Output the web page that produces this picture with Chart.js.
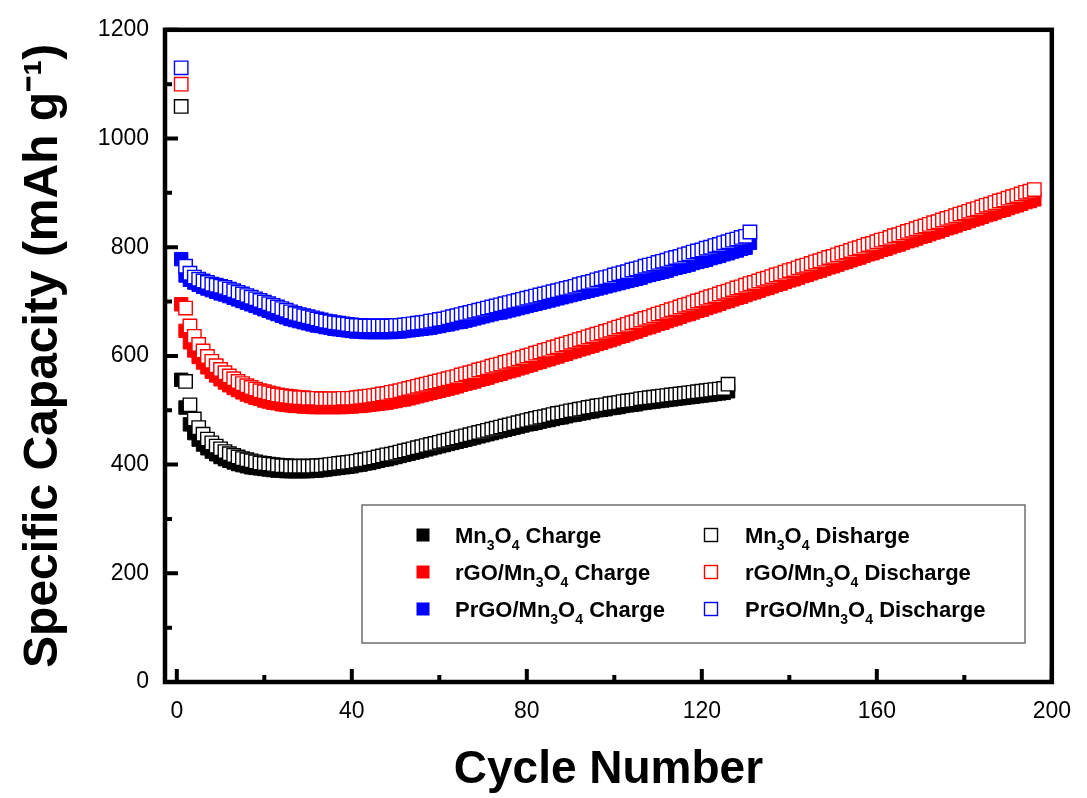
<!DOCTYPE html>
<html>
<head>
<meta charset="utf-8">
<title>Specific capacity vs cycle number</title>
<script src="https://cdn.jsdelivr.net/npm/chart.js@4.4.1/dist/chart.umd.min.js"></script>
<style>
  html, body { margin: 0; padding: 0; background: #fff; }
  #wrap { width: 1087px; height: 798px; }
</style>
</head>
<body>
<div id="wrap"><canvas id="chart" width="1087" height="798"></canvas></div>
<script>
// Capacity per cycle (mAh/g), cycle n is at index n-1
const mnCharge = [
  556,505,474,458,446,437,430,424,419,414,
  410,407,404,401,399,397,395,394,393,392,
  391,390,389,389,388,388,388,388,388,388,
  389,389,390,391,392,393,394,395,396,397,
  399,400,402,403,405,407,409,410,412,414,
  416,418,420,422,424,426,428,430,432,434,
  436,438,440,442,444,446,448,450,452,454,
  456,458,460,462,464,466,468,470,472,474,
  475,477,479,481,482,484,486,487,489,491,
  492,494,495,497,498,500,501,502,504,505,
  506,508,509,510,511,513,514,515,516,517,
  518,519,520,521,522,523,524,525,526,527,
  528,529,530,531,532,535
];
const mnDischarge = [
  1059,553,510,484,468,456,447,440,434,429,
  424,420,417,414,411,409,407,405,403,402,
  401,400,399,398,398,397,397,397,397,397,
  397,398,398,399,400,401,402,403,404,405,
  406,408,409,411,412,414,416,418,419,421,
  423,425,427,429,431,433,435,437,439,441,
  443,445,447,449,451,453,455,457,459,461,
  463,465,467,469,471,473,475,477,479,481,
  483,485,487,488,490,492,494,495,497,499,
  500,502,503,505,506,508,509,510,512,513,
  514,516,517,518,519,521,522,523,524,525,
  526,527,528,529,530,531,532,533,534,535,
  536,537,538,539,540,548
];
const rgoCharge = [
  695,646,625,610,598,588,579,571,564,557,
  551,546,541,537,533,529,526,523,521,518,
  516,514,513,511,510,509,508,508,507,507,
  506,506,506,506,506,506,506,506,507,507,
  508,508,509,510,511,512,513,514,516,517,
  519,520,522,524,526,528,530,532,534,536,
  538,540,542,544,547,549,551,553,556,558,
  560,563,565,567,570,572,574,577,579,582,
  584,587,589,592,594,597,599,602,604,607,
  609,612,614,617,619,622,624,627,629,632,
  635,637,640,643,645,648,651,653,656,659,
  661,664,667,669,672,675,677,680,683,685,
  688,691,693,696,699,701,704,707,709,712,
  715,717,720,723,725,728,731,733,736,739,
  741,744,747,749,752,755,757,760,763,765,
  768,771,773,776,779,781,784,787,789,792,
  795,797,800,803,805,808,811,813,816,819,
  821,824,827,829,832,835,837,840,843,845,
  848,851,853,856,859,861,864,867,869,872,
  875,877,880,883,885,888
];
const rgoDischarge = [
  1100,688,655,636,621,609,599,590,582,575,
  569,563,558,553,549,545,542,539,536,534,
  532,530,528,527,526,525,524,523,523,522,
  522,522,521,521,521,521,521,522,522,522,
  523,524,525,526,527,528,530,531,533,534,
  536,538,540,542,544,546,548,550,552,554,
  556,558,560,562,565,567,569,571,574,576,
  578,581,583,585,588,590,592,595,597,600,
  602,605,607,610,612,615,617,620,622,625,
  627,630,632,635,637,640,642,645,647,650,
  653,655,658,661,663,666,669,671,674,677,
  679,682,685,687,690,693,695,698,701,703,
  706,709,711,714,717,719,722,725,727,730,
  733,735,738,741,743,746,749,751,754,757,
  759,762,765,767,770,773,775,778,781,783,
  786,789,791,794,797,799,802,805,807,810,
  813,815,818,821,823,826,829,831,834,837,
  839,842,845,847,850,853,855,858,861,863,
  866,869,871,874,877,879,882,885,887,890,
  893,895,898,901,903,906
];
const prgoCharge = [
  778,748,740,735,731,727,724,721,718,715,
  713,710,707,704,701,698,695,692,689,686,
  683,680,677,674,671,668,666,664,662,660,
  658,656,655,653,652,650,649,648,647,646,
  645,645,644,644,644,644,644,644,644,645,
  645,646,647,648,649,650,651,652,654,655,
  657,658,660,662,663,665,667,669,671,673,
  675,677,679,680,682,684,686,688,690,692,
  694,696,698,700,702,704,706,708,710,712,
  714,716,718,720,722,724,726,728,730,732,
  734,736,738,740,742,744,747,749,751,753,
  755,757,760,762,764,766,768,771,773,775,
  777,780,782,784,787,789,792,794,797,799,
  808
];
const prgoDischarge = [
  1130,765,752,745,741,738,735,732,730,728,
  726,723,720,717,714,711,708,705,702,699,
  696,693,690,687,684,681,678,676,674,672,
  670,668,666,664,663,661,660,659,658,657,
  656,656,655,655,655,655,655,655,655,656,
  656,657,658,659,660,661,662,664,665,667,
  668,670,672,674,676,678,680,682,684,686,
  688,690,692,694,696,698,700,702,704,706,
  708,710,712,714,716,718,720,722,724,726,
  728,731,733,735,737,740,742,744,746,749,
  751,753,755,758,760,762,765,767,769,772,
  774,776,779,781,783,786,788,791,793,795,
  798,800,803,805,808,810,813,815,818,820,
  828
];

const xMajorTicks = [0, 40, 80, 120, 160, 200];
const xMinorTicks = [20, 60, 100, 140, 180];
const yMajorTicks = [0, 200, 400, 600, 800, 1000, 1200];
const yMinorTicks = [100, 300, 500, 700, 900, 1100];

const FONT = '"Liberation Sans", Arial, Helvetica, sans-serif';

// cycle number = position in the list + 1
const toPoints = arr => arr.map((v, i) => ({ x: i + 1, y: v }));

function chargeSet(label, values, color) {
    return {
        label: label,
        data: toPoints(values),
        pointStyle: 'rect',
        pointRadius: 9.5,
        pointBackgroundColor: color,
        pointBorderColor: color,
        pointBorderWidth: 1,
        open: false,
        order: 2
    };
}

function dischargeSet(label, values, color) {
    return {
        label: label,
        data: toPoints(values),
        pointStyle: 'rect',
        pointRadius: 9.5,
        pointBackgroundColor: '#ffffff',
        pointBorderColor: color,
        pointBorderWidth: 1.4,
        open: true,
        order: 1
    };
}

// text with digits drawn as subscripts (Mn3O4 -> Mn₃O₄)
function drawSubText(ctx, text, x, y, size) {
    const base = y + size * 0.36;
    const parts = text.split(/(\d)/);
    ctx.textAlign = 'left';
    ctx.textBaseline = 'alphabetic';
    ctx.fillStyle = '#000';
    parts.forEach((p, i) => {
        if (!p) return;
        if (i % 2 === 1) {
            ctx.font = `bold ${Math.round(size * 0.62)}px ${FONT}`;
            ctx.fillText(p, x, base + size * 0.32);
        } else {
            ctx.font = `bold ${size}px ${FONT}`;
            ctx.fillText(p, x, base);
        }
        x += ctx.measureText(p).width;
    });
}

const boxLegend = {
    id: 'boxLegend',
    afterDraw(chart, args, opts) {
        const ctx = chart.ctx;
        const b = opts.box;
        ctx.save();
        ctx.strokeStyle = '#6e6e6e';
        ctx.lineWidth = 1.5;
        ctx.strokeRect(b.left, b.top, b.right - b.left, b.bottom - b.top);

        const sets = chart.data.datasets;
        const half = sets.length / 2;
        sets.forEach((d, i) => {
            const col = opts.cols[i < half ? 0 : 1];
            const cy = opts.rows[i % half];
            const s = opts.marker;
            if (d.open) {
                ctx.fillStyle = '#fff';
                ctx.fillRect(col.marker - s / 2, cy - s / 2, s, s);
                ctx.strokeStyle = d.pointBorderColor;
                ctx.lineWidth = 1.4;
                ctx.strokeRect(col.marker - s / 2, cy - s / 2, s, s);
            } else {
                ctx.fillStyle = d.pointBackgroundColor;
                ctx.fillRect(col.marker - s / 2, cy - s / 2, s, s);
            }
            drawSubText(ctx, d.label, col.text, cy, opts.fontSize);
        });
        ctx.restore();
    }
};

// closed frame plus inward tick marks on the left and bottom axes
const frameTicks = {
    id: 'frameTicks',
    afterDraw(chart) {
        const { ctx, chartArea: a, scales: { x, y } } = chart;
        ctx.save();
        ctx.strokeStyle = '#000';
        ctx.lineWidth = 4;
        ctx.beginPath();
        xMajorTicks.concat(xMinorTicks).forEach(v => {
            const px = x.getPixelForValue(v);
            const len = xMajorTicks.includes(v) ? 13 : 7;
            ctx.moveTo(px, a.bottom);
            ctx.lineTo(px, a.bottom - len);
        });
        yMajorTicks.concat(yMinorTicks).forEach(v => {
            const py = y.getPixelForValue(v);
            const len = yMajorTicks.includes(v) ? 13 : 7;
            ctx.moveTo(a.left, py);
            ctx.lineTo(a.left + len, py);
        });
        ctx.stroke();
        ctx.lineWidth = 4.5;
        ctx.strokeRect(a.left, a.top, a.right - a.left, a.bottom - a.top);
        ctx.restore();
    }
};

const ctx = document.getElementById('chart').getContext('2d');
new Chart(ctx, {
    type: 'scatter',
    data: {
        datasets: [
            chargeSet('Mn3O4 Charge', mnCharge, '#000000'),
            chargeSet('rGO/Mn3O4 Charge', rgoCharge, '#ff0000'),
            chargeSet('PrGO/Mn3O4 Charge', prgoCharge, '#0000ff'),
            dischargeSet('Mn3O4 Disharge', mnDischarge, '#000000'),
            dischargeSet('rGO/Mn3O4 Discharge', rgoDischarge, '#ff0000'),
            dischargeSet('PrGO/Mn3O4 Discharge', prgoDischarge, '#0000ff')
        ]
    },
    options: {
        responsive: false,
        animation: false,
        events: [],
        layout: { padding: { top: 28, right: 30, bottom: 0, left: 0 } },
        plugins: {
            legend: { display: false },
            tooltip: { enabled: false },
            boxLegend: {
                box: { left: 362, top: 505, right: 1025, bottom: 643 },
                rows: [535, 572, 609],
                cols: [{ marker: 423, text: 455 }, { marker: 711, text: 745 }],
                marker: 13,
                fontSize: 22
            }
        },
        scales: {
            x: {
                type: 'linear',
                min: -2.7,
                max: 200,
                afterBuildTicks: s => { s.ticks = xMajorTicks.map(v => ({ value: v })); },
                afterFit: s => { s.height = 116; },
                grid: { display: false, drawTicks: false },
                border: { display: false },
                ticks: {
                    color: '#000', padding: 16, maxRotation: 0,
                    font: { family: FONT, size: 23 },
                    callback: v => String(v)
                },
                title: {
                    display: true,
                    text: 'Cycle Number',
                    color: '#000',
                    padding: { top: 0, bottom: 0 },
                    font: { family: FONT, size: 46, weight: 'bold' }
                }
            },
            y: {
                type: 'linear',
                min: 0,
                max: 1200,
                afterBuildTicks: s => { s.ticks = yMajorTicks.map(v => ({ value: v })); },
                afterFit: s => { s.width = 165; },
                grid: { display: false, drawTicks: false },
                border: { display: false },
                ticks: {
                    color: '#000', padding: 16,
                    font: { family: FONT, size: 23 },
                    callback: v => String(v)
                },
                title: {
                    display: true,
                    text: 'Specific Capacity (mAh g\u207B\u00B9)',
                    color: '#000',
                    padding: { top: 15, bottom: 0 },
                    font: { family: FONT, size: 48, weight: 'bold' }
                }
            }
        }
    },
    plugins: [frameTicks, boxLegend]
});
</script>
</body>
</html>
